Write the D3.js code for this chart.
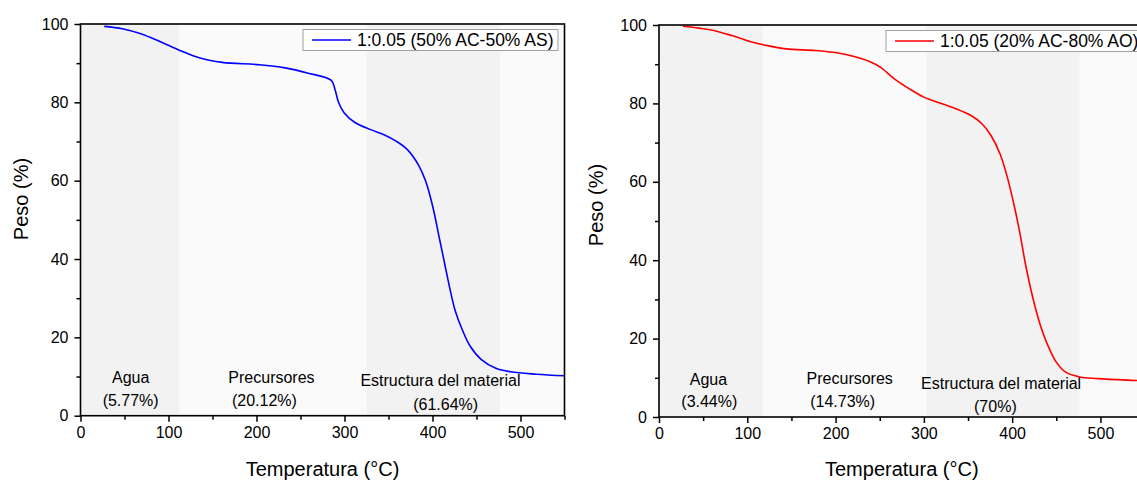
<!DOCTYPE html>
<html lang="es">
<head>
<meta charset="UTF-8">
<title>TGA</title>
<script src="https://cdn.jsdelivr.net/npm/d3@7"></script>
<style>
  body { margin: 0; background: #fff; }
  svg text { font-family: "Liberation Sans", Arial, sans-serif; fill: #000; }
</style>
</head>
<body>
<script>
// Curva izquierda: 1:0.05 (50% AC-50% AS)
var tempA = [27, 47.5, 68.5, 89.5, 113.5, 135.8, 161, 203, 232.5, 257.7, 285, 289.2, 293.4, 299.7, 312.3, 329, 346, 358.6, 371.2, 383.8, 392.2, 400.6, 406.9, 413.2, 419.5, 425.8, 434.3, 442.7, 455.2, 472, 489, 518, 550];
var pesoA = [99.4, 98.8, 97.5, 95.6, 93.2, 91.3, 90.2, 89.6, 88.8, 87.5, 85.6, 83.3, 79.9, 77.3, 74.8, 73.1, 71.6, 70.1, 68.0, 64.1, 59.9, 53.1, 46.3, 39.5, 32.7, 26.8, 21.7, 17.8, 14.4, 12.1, 11.2, 10.6, 10.2];

// Curva derecha: 1:0.05 (20% AC-80% AO)
var tempB = [27, 45.6, 62, 82.5, 103, 119.5, 144, 177, 201.5, 222, 238.5, 251, 267, 283.7, 300, 320.6, 337, 353.4, 365.8, 376, 386.3, 394.5, 402.7, 408.9, 415, 423.2, 431.4, 439.6, 450, 460.2, 476.6, 497, 541, 550];
var pesoB = [99.7, 99.2, 98.6, 97.3, 95.8, 94.9, 93.9, 93.5, 92.9, 91.9, 90.7, 89.2, 86.2, 83.7, 81.6, 79.9, 78.6, 76.9, 74.8, 71.8, 67.1, 61.2, 53.5, 46.7, 39.1, 30.6, 23.8, 18.7, 14.0, 11.5, 10.2, 9.8, 9.3, 9.2];

// zonas sombreadas (limites en °C)
var bandsA = [0, 112, 325, 477, 550];
var bandsB = [0, 117.6, 303, 476.5, 550];

var labelsA = [
  {t: "Agua", x: 57, y: 9.7}, {t: "(5.77%)", x: 57, y: 4.0},
  {t: "Precursores", x: 217, y: 9.9}, {t: "(20.12%)", x: 209, y: 4.0},
  {t: "Estructura del material", x: 409, y: 8.9}, {t: "(61.64%)", x: 415, y: 3.0}
];
var labelsB = [
  {t: "Agua", x: 56, y: 9.6}, {t: "(3.44%)", x: 57, y: 3.9},
  {t: "Precursores", x: 216, y: 9.9}, {t: "(14.73%)", x: 208, y: 4.1},
  {t: "Estructura del material", x: 387.5, y: 8.6}, {t: "(70%)", x: 381, y: 2.8}
];

var xMajor = [0, 100, 200, 300, 400, 500];
var xMinor = [50, 150, 250, 350, 450, 550];
var yMajor = [0, 20, 40, 60, 80, 100];
var yMinor = [10, 30, 50, 70, 90];

var svg = d3.select("body").append("svg")
    .attr("width", 1137)
    .attr("height", 480);

function panel(cfg) {
    var x = d3.scaleLinear().domain([0, 550]).range([cfg.left, cfg.right]);
    var y = d3.scaleLinear().domain([0, 100]).range([cfg.bottom, cfg.top]);
    var g = svg.append("g");

    // bandas de fondo
    for (var i = 0; i < cfg.bands.length - 1; i++) {
        g.append("rect")
            .attr("x", x(cfg.bands[i]))
            .attr("y", y(100))
            .attr("width", x(cfg.bands[i + 1]) - x(cfg.bands[i]))
            .attr("height", y(0) - y(100))
            .attr("fill", i % 2 == 0 ? "#f2f2f2" : "#fafafa");
    }

    // etiquetas de zona
    g.selectAll(".lab")
        .data(cfg.labels)
        .enter().append("text")
        .attr("x", function (d) { return x(d.x); })
        .attr("y", function (d) { return y(d.y); })
        .attr("dy", "0.35em")
        .attr("text-anchor", "middle")
        .style("font-size", "16px")
        .text(function (d) { return d.t; });

    var line = d3.line()
        .x(function (d) { return x(d[0]); })
        .y(function (d) { return y(d[1]); })
        .curve(d3.curveCatmullRom.alpha(0.5));

    g.append("path")
        .datum(d3.zip(cfg.temp, cfg.peso))
        .attr("d", line)
        .attr("fill", "none")
        .attr("stroke", cfg.color)
        .attr("stroke-width", 1.6);

    // marco
    g.append("rect")
        .attr("x", x(0)).attr("y", y(100))
        .attr("width", x(550) - x(0)).attr("height", y(0) - y(100))
        .attr("fill", "none").attr("stroke", "#000").attr("stroke-width", 1.6);

    // ejes
    g.append("g").attr("transform", "translate(0," + y(0) + ")")
        .call(d3.axisBottom(x).tickValues(xMajor).tickSize(6).tickPadding(5).tickFormat(d3.format("d")));
    g.append("g").attr("transform", "translate(0," + y(0) + ")")
        .call(d3.axisBottom(x).tickValues(xMinor).tickSize(4).tickFormat(""));
    g.append("g").attr("transform", "translate(" + x(0) + ",0)")
        .call(d3.axisLeft(y).tickValues(yMajor).tickSize(6).tickPadding(6).tickFormat(d3.format("d")));
    g.append("g").attr("transform", "translate(" + x(0) + ",0)")
        .call(d3.axisLeft(y).tickValues(yMinor).tickSize(4).tickFormat(""));
    g.selectAll(".domain").remove();
    g.selectAll(".tick line").attr("stroke", "#000").attr("stroke-width", 1.5);
    g.selectAll(".tick text").style("font-size", "16px").style("font-family", "Liberation Sans, Arial, sans-serif");

    // titulos
    g.append("text")
        .attr("x", (cfg.left + cfg.right) / 2)
        .attr("y", 476)
        .attr("text-anchor", "middle")
        .style("font-size", "20px")
        .text("Temperatura (°C)");
    g.append("text")
        .attr("transform", "translate(" + cfg.ytx + "," + cfg.yty + ") rotate(-90)")
        .attr("dy", "0.35em")
        .attr("text-anchor", "middle")
        .style("font-size", "20px")
        .text("Peso (%)");

    // leyenda
    var lg = g.append("g").attr("transform", "translate(" + cfg.legX + "," + cfg.legY + ")");
    lg.append("rect")
        .attr("width", cfg.legW).attr("height", 21)
        .attr("fill", "#fff").attr("stroke", "#a0a0a0").attr("stroke-width", 1);
    lg.append("line")
        .attr("x1", 9).attr("x2", 48).attr("y1", 10.5).attr("y2", 10.5)
        .attr("stroke", cfg.color).attr("stroke-width", 1.6);
    lg.append("text")
        .attr("x", 54).attr("y", 10.5).attr("dy", "0.35em")
        .style("font-size", "17.5px")
        .text(cfg.name);
}

panel({
    left: 80.5, right: 564.5, top: 24, bottom: 415.7,
    temp: tempA, peso: pesoA, color: "#0000ff", bands: bandsA, labels: labelsA,
    name: "1:0.05 (50% AC-50% AS)", legX: 303, legY: 29.5, legW: 255,
    ytx: 21, yty: 199
});
panel({
    left: 659, right: 1144.6, top: 25, bottom: 417,
    temp: tempB, peso: pesoB, color: "#ff0000", bands: bandsB, labels: labelsB,
    name: "1:0.05 (20% AC-80% AO)", legX: 886, legY: 30.5, legW: 252,
    ytx: 596, yty: 205
});
</script>
</body>
</html>
